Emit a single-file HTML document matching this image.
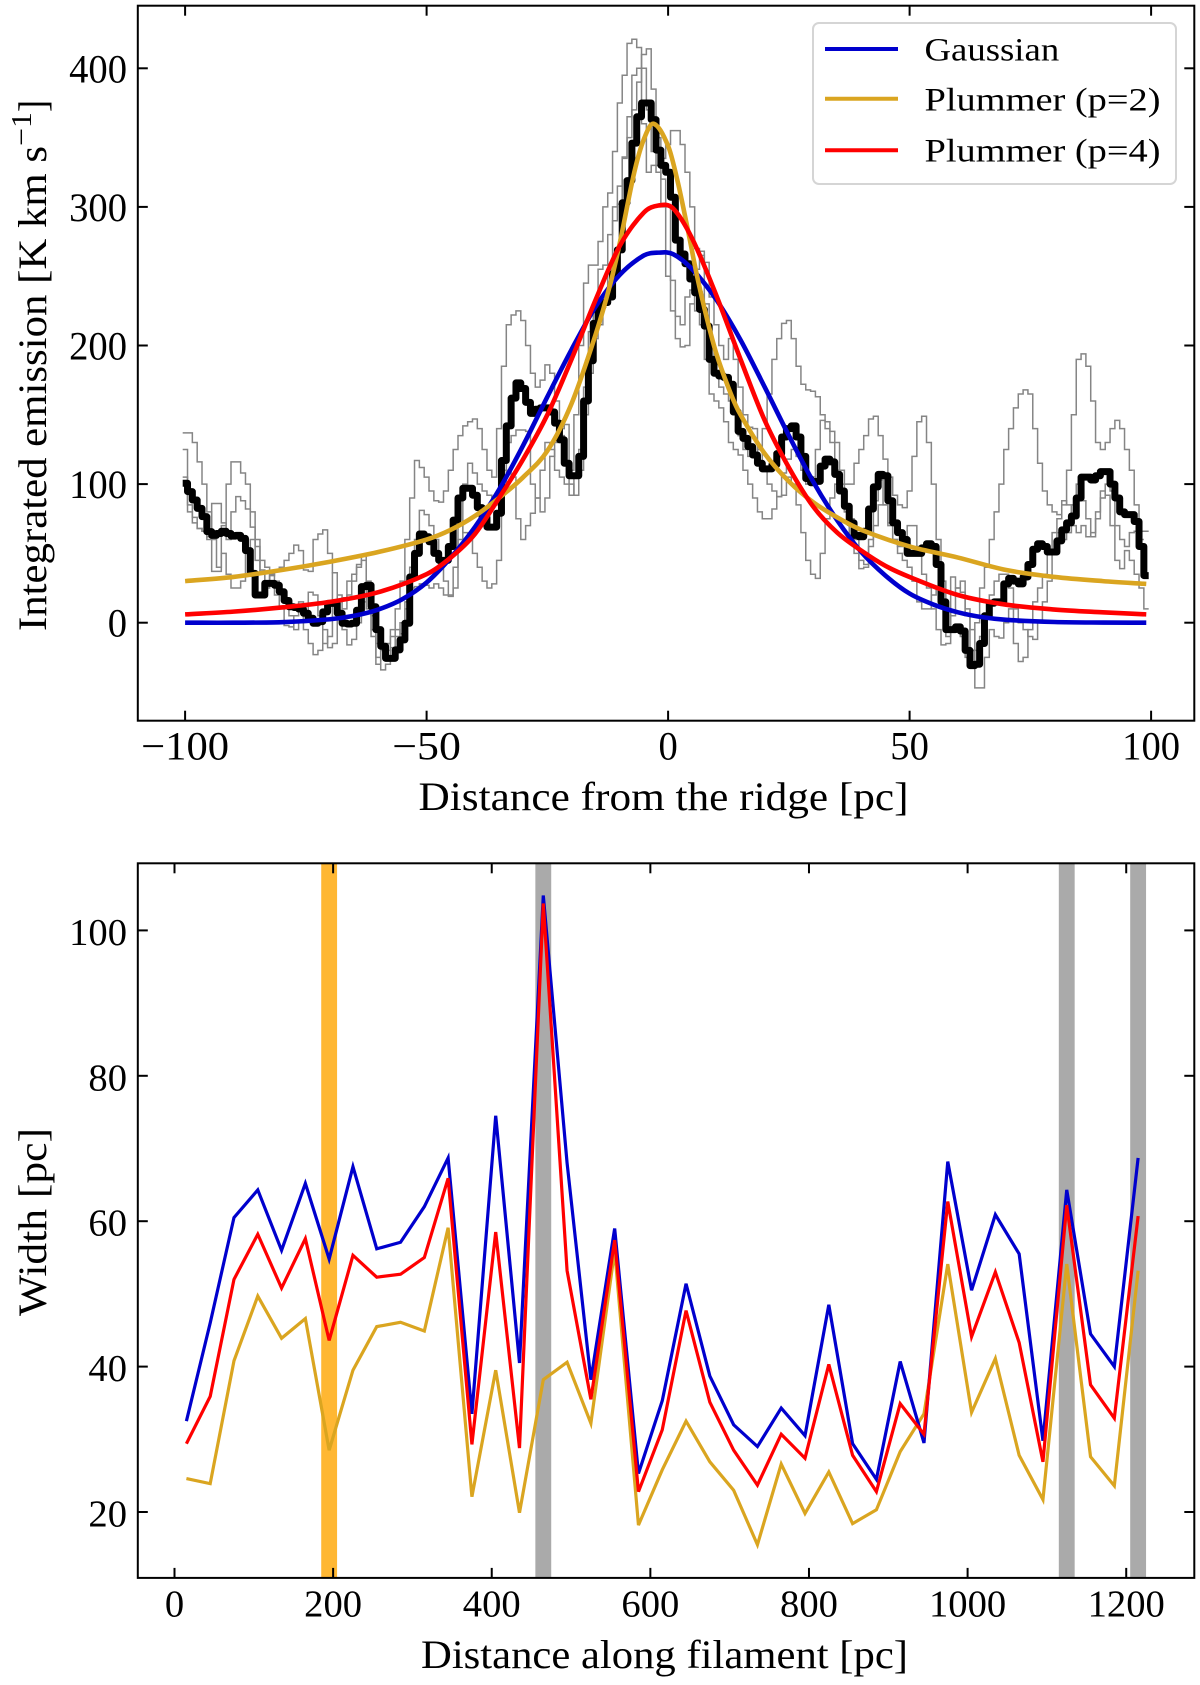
<!DOCTYPE html>
<html lang="en">
<head>
<meta charset="utf-8">
<title>Filament profile and width</title>
<style>
html,body{margin:0;padding:0;background:#fff;}
svg{display:block;}
text{font-family:"Liberation Serif",serif;fill:#000;}
</style>
</head>
<body>
<svg id="figure" xmlns="http://www.w3.org/2000/svg" width="1200" height="1685" viewBox="0 0 1200 1685">
  <rect x="0" y="0" width="1200" height="1685" fill="#fff"/>
  <g id="top-marks"></g>
  <g id="bottom-marks"></g>
  <g id="top-axes"></g>
  <g id="bottom-axes"></g>

  <text x="418.5" y="810" font-size="40" textLength="490" lengthAdjust="spacingAndGlyphs">Distance from the ridge [pc]</text>
  <text transform="translate(46,631) rotate(-90)" x="0" y="0" font-size="40" textLength="485" lengthAdjust="spacingAndGlyphs">Integrated emission [K km s</text>
  <text transform="translate(31,146) rotate(-90)" x="0" y="0" font-size="29" textLength="34" lengthAdjust="spacingAndGlyphs">−1</text>
  <text transform="translate(46,112) rotate(-90)" x="0" y="0" font-size="40" textLength="12" lengthAdjust="spacingAndGlyphs">]</text>

  <text x="421" y="1668" font-size="40" textLength="487" lengthAdjust="spacingAndGlyphs">Distance along filament [pc]</text>
  <text transform="translate(46,1316) rotate(-90)" x="0" y="0" font-size="40" textLength="188" lengthAdjust="spacingAndGlyphs">Width [pc]</text>

  <g>
    <rect x="813" y="23" width="363" height="161" rx="6" ry="6" fill="#fff" fill-opacity="0.85" stroke="#d5d5d5" stroke-width="2"/>
    <line x1="825" x2="898" y1="49" y2="49" stroke="#0000cd" stroke-width="4"/>
    <text x="924.5" y="60.5" font-size="33" textLength="134.7" lengthAdjust="spacingAndGlyphs">Gaussian</text>
    <line x1="825" x2="898" y1="98.7" y2="98.7" stroke="#daa520" stroke-width="4"/>
    <text x="924.5" y="110.5" font-size="33" textLength="236" lengthAdjust="spacingAndGlyphs">Plummer (p=2)</text>
    <line x1="825" x2="898" y1="150.3" y2="150.3" stroke="#ff0000" stroke-width="4"/>
    <text x="924.5" y="161.5" font-size="33" textLength="236" lengthAdjust="spacingAndGlyphs">Plummer (p=4)</text>
  </g>
</svg>

<script>
// ---------- top panel data ----------
const profileStart = -100;
const profileMean = [100.6,94.6,88.5,82.5,76.5,65.7,63,64.4,66,64.4,62.5,63,60.8,52,35.6,20,20,28.4,28.4,27,22.3,16,11.5,11,9.9,6.8,3.2,-0.4,0.8,7.8,13.9,13.9,6.8,-0.4,-0.9,-0.4,9,26,27,11.5,-5,-17,-25.7,-25.7,-19.6,-12.4,-0.4,33,50,64,62,58.4,50,45,45,55,74,90,97,97,92,83,76,69,69,79,117,142,162,173,169,159,151,154,155,155,152,144,132,115,106,106,120,160,189,216,228,231,235,252,269,303,319,346,365,375,375,363,341,330,325,307,276,266,259,248,238,226,214,190,180,178,177,172,152,138,133,127,121,115,111,111,114,122,134,140,142,134,120,104,101,102,113,118,116,107,95,84,72,63,62,66,82,98,107,106,88,72,65,60,50,50,50,54,57,55,42,15,-5,-5,-3,-6,-20,-31,-30,-15,5,14,15,15,28,32,30,28,33,42,53,57,55,51,51,59,67,72,77,90,105,105,103,106,109,109,100,90,80,78,78,73,55,34];
const sliceA = [137,137,130,116,100,80,60,40,70,100,116,116,108,100,80,60,38,30,34,38,40,45,50,56,52,38,37,60,64,67,50,36,15,18,30,35,42,48,20,-10,-30,-20,-20,-5,10,30,60,90,117,112,105,95,88,87,95,110,125,135,142,145,147,140,125,110,105,140,185,215,222,225,218,200,180,170,175,186,180,160,135,115,110,150,200,245,258,258,275,300,310,340,375,395,418,421,415,400,370,340,330,335,345,355,355,345,325,300,270,265,230,200,180,170,165,160,150,135,125,120,122,125,140,165,190,205,216,218,205,185,172,168,167,163,150,140,138,130,110,100,100,115,125,135,147,149,135,118,105,92,85,83,95,120,145,149,130,100,60,30,10,-5,-5,-10,-25,-20,0,25,40,60,80,100,125,140,155,165,168,165,140,115,95,85,80,78,85,110,150,190,194,185,160,130,125,130,140,146,140,125,110,85,60];
const sliceB = [105,80,72,68,66,60,86,86,72,60,80,91,88,82,69,55,45,40,30,20,10,-2,-3,5,15,-5,-15,-23,-20,-5,-18,-15,5,-5,-16,-12,0,15,30,5,-15,-34,-30,-18,-10,0,15,40,60,81,78,70,60,40,30,20,25,60,100,115,108,100,95,92,85,85,110,130,135,139,139,138,100,90,80,90,120,130,140,143,100,92,110,170,210,225,255,258,280,300,315,336,350,370,390,410,414,385,350,300,250,225,205,199,200,230,255,268,260,235,215,200,190,205,190,170,150,141,140,125,110,100,95,91,108,118,125,120,110,100,105,125,146,145,130,110,95,80,75,60,45,42,55,70,85,85,70,60,55,60,70,70,55,35,25,10,-5,-16,-15,5,25,30,10,-20,-47,-47,-25,-5,-10,-11,0,10,-15,-28,-25,-5,15,25,35,50,65,75,88,85,70,65,70,62,65,80,95,92,70,45,39,52,45,35,25,10];
const sliceC = [125,85,76,68,66,62,37,37,50,35,25,25,30,50,60,45,35,25,35,30,20,15,5,-5,0,8,22,20,5,-15,-10,36,20,10,20,30,40,45,10,-5,-25,-20,-15,-10,-5,-8,10,25,26,28,27,25,28,25,20,19,40,70,65,60,50,40,30,25,28,45,100,110,105,75,60,70,79,90,110,130,125,110,105,100,92,105,125,150,180,205,215,235,255,290,302,335,365,395,400,360,325,330,325,320,300,247,221,215,235,240,225,215,190,165,160,155,145,130,125,121,110,100,90,80,75,75,82,91,92,105,100,85,65,45,35,32,50,75,90,100,100,80,60,50,39,40,60,88,103,85,72,60,50,45,40,30,15,10,10,20,25,15,-10,33,25,22,5,-5,-20,-10,5,20,30,35,35,25,10,0,-5,-10,-12,0,15,30,50,65,60,65,85,100,88,75,62,75,90,100,95,70,60,55,65,66,66,66];

const gaussianX = [-100,-90,-80,-70,-65,-60,-55,-50,-45,-40,-35,-30,-25,-20,-15,-10,-5,-2,1,5,10,15,20,25,30,35,40,45,50,55,60,65,70,80,90,99];
const gaussianY = [0,0,0.4,2.5,5,9.5,17,29,47,69,96,128,163,197,228,251,265,267,266,255,233,204,170,135,102,74,51,34,21,13,7.5,4,2.1,0.5,0.1,0];
const plummer4X = [-100,-90,-80,-70,-60,-50,-45,-40,-35,-30,-25,-20,-15,-10,-5,-2,1,5,10,15,20,25,30,35,40,45,50,60,70,80,90,99];
const plummer4Y = [6,8,11,15,22,35,47,64,90,118,150,190,233,272,296,301,299,277,236,190,146,112,84,65,52,41,33,20,13,9.5,7.5,6];
const plummer2X = [-100,-90,-80,-70,-60,-50,-45,-40,-35,-30,-25,-20,-15,-12,-10,-7,-5,-3,0,2,4,6,8,10,13,15,20,25,30,35,40,50,60,70,80,90,99];
const plummer2Y = [30,33,38,44,51,60,67,77,90,105,124,158,208,244,274,325,349,360,344,318,285,250,220,194,165,150,122,102,87,76,67,55,47,38,33,30,28];

const topXTicks = [-100,-50,0,50,100];
const topYTicks = [0,100,200,300,400];

// ---------- bottom panel data ----------
const filamentStart = 15;
const filamentStep = 30;
const widthGaussian = [32.5,46,60.5,64.3,56,65.2,54.8,67.5,56.2,57.1,62,68.7,33.5,74.5,40.5,104.8,68,38.2,59,25.3,35.3,51.4,38.7,32,29,34.3,30.5,48.5,29.4,24.5,40.7,29.5,68.2,50.5,60.9,55.5,29.8,64.3,44.5,40,68.7];
const widthPlummer2 = [24.6,23.9,40.8,49.7,43.9,46.6,28.5,39.5,45.5,46.1,44.9,59.1,22.1,39.5,19.9,38.2,40.6,32.2,56,18.2,25.8,32.5,26.9,23,15.5,26.6,19.8,25.5,18.4,20.3,28.3,33.5,54.1,33.7,41.1,27.8,21.7,54.1,27.6,23.6,53.2];
const widthPlummer4 = [29.4,35.9,52,58.2,50.8,57.6,43.6,55.3,52.3,52.7,55,65.9,29.3,58.5,28.8,103.7,53.2,35.5,57.4,22.8,31.3,47.7,35.1,28.5,23.7,30.7,27.4,40.3,27.8,22.8,34.9,30.7,62.7,44.1,53,43.3,26.9,62.2,37.5,32.9,60.7];
const orangeBands = [195];
const grayBands = [465,1125,1215];
const bandHalfWidth = 10;

const bottomXTicks = [0,200,400,600,800,1000,1200];
const bottomYTicks = [20,40,60,80,100];

// ---------- axis functions ----------
const box = {left:137.8,right:1194.3};
const topBox = {top:5.7,bottom:720.7};
const botBox = {top:863.3,bottom:1577.9};
function topX(v){return 668.1+4.83*v;}
function topY(v){return 622.7-1.386*v;}
function botX(v){return 174.5+0.7931*v;}
function botY(v){return 930.4+(100-v)*7.27;}

const NS = 'http://www.w3.org/2000/svg';
function make(tag,parent,attrs){
  const el = document.createElementNS(NS,tag);
  for(const k in attrs){el.setAttribute(k,attrs[k]);}
  parent.appendChild(el);
  return el;
}
function fmt(n){return n.toFixed(2);}

function stepPath(values,start,xf,yf){
  let d = 'M'+fmt(xf(start-0.5))+' '+fmt(yf(values[0]));
  for(let i=0;i<values.length;i++){
    const x1 = xf(start+i+0.5);
    d += 'H'+fmt(x1);
    if(i<values.length-1){d += 'V'+fmt(yf(values[i+1]));}
  }
  return d;
}
function smoothPath(xs,ys,xf,yf){
  const n = xs.length;
  const slopes = [];
  for(let i=0;i<n;i++){
    const a = Math.max(0,i-1), b = Math.min(n-1,i+1);
    slopes.push((ys[b]-ys[a])/(xs[b]-xs[a]));
  }
  let d = 'M'+fmt(xf(xs[0]))+' '+fmt(yf(ys[0]));
  for(let i=0;i<n-1;i++){
    const h = xs[i+1]-xs[i];
    const c1x = xs[i]+h/3, c1y = ys[i]+slopes[i]*h/3;
    const c2x = xs[i+1]-h/3, c2y = ys[i+1]-slopes[i+1]*h/3;
    d += 'C'+fmt(xf(c1x))+' '+fmt(yf(c1y))+' '+fmt(xf(c2x))+' '+fmt(yf(c2y))+' '+fmt(xf(xs[i+1]))+' '+fmt(yf(ys[i+1]));
  }
  return d;
}
function polyPath(values,xf,yf){
  let d = '';
  values.forEach(function(v,i){
    d += (i?'L':'M')+fmt(xf(filamentStart+filamentStep*i))+' '+fmt(yf(v));
  });
  return d;
}
function labelWidth(v){
  const digits = String(Math.abs(v)).length;
  return digits*19.3+(v<0?30:0);
}
function labelText(v){
  return (v<0?'\u2212':'')+Math.abs(v);
}

// ---------- top panel marks ----------
const topMarks = document.getElementById('top-marks');
const grayStyle = {fill:'none',stroke:'#858585','stroke-width':'1.5','stroke-linejoin':'miter'};

const pathA = make('path',topMarks,Object.assign({d:stepPath(sliceA,profileStart,topX,topY)},grayStyle));


const pathB = make('path',topMarks,Object.assign({d:stepPath(sliceB,profileStart,topX,topY)},grayStyle));


const pathC = make('path',topMarks,Object.assign({d:stepPath(sliceC,profileStart,topX,topY)},grayStyle));



const pathMean = make('path',topMarks,{d:stepPath(profileMean,profileStart,topX,topY),fill:'none',stroke:'#000','stroke-width':'7','stroke-linejoin':'round','stroke-linecap':'butt'});



const fitG = make('path',topMarks,{d:smoothPath(gaussianX,gaussianY,topX,topY),fill:'none',stroke:'#0000cd','stroke-width':'4.6'});


const fitP2 = make('path',topMarks,{d:smoothPath(plummer2X,plummer2Y,topX,topY),fill:'none',stroke:'#daa520','stroke-width':'4.6'});


const fitP4 = make('path',topMarks,{d:smoothPath(plummer4X,plummer4Y,topX,topY),fill:'none',stroke:'#ff0000','stroke-width':'4.6'});



// ---------- bottom panel marks ----------
const botMarks = document.getElementById('bottom-marks');
orangeBands.forEach(function(c){
  const r = make('rect',botMarks,{x:fmt(botX(c-bandHalfWidth)),y:botBox.top,width:fmt(botX(c+bandHalfWidth)-botX(c-bandHalfWidth)),height:botBox.bottom-botBox.top,fill:'#ffb733'});
  
  
});
grayBands.forEach(function(c){
  const r = make('rect',botMarks,{x:fmt(botX(c-bandHalfWidth)),y:botBox.top,width:fmt(botX(c+bandHalfWidth)-botX(c-bandHalfWidth)),height:botBox.bottom-botBox.top,fill:'#aaaaaa'});
  
  
});
const wP2 = make('path',botMarks,{d:polyPath(widthPlummer2,botX,botY),fill:'none',stroke:'#daa520','stroke-width':'3.2','stroke-linejoin':'miter'});


const wG = make('path',botMarks,{d:polyPath(widthGaussian,botX,botY),fill:'none',stroke:'#0000cd','stroke-width':'3.2','stroke-linejoin':'miter'});


const wP4 = make('path',botMarks,{d:polyPath(widthPlummer4,botX,botY),fill:'none',stroke:'#ff0000','stroke-width':'3.2','stroke-linejoin':'miter'});



// ---------- axes ----------
function drawAxes(group,frame,xTicks,yTicks,xf,yf,fontSize,xBase,yOffset){
  const spine = make('rect',group,{x:box.left,y:frame.top,width:box.right-box.left,height:frame.bottom-frame.top,fill:'none',stroke:'#000','stroke-width':'2'});
  
  
  const tickLen = 10;
  xTicks.forEach(function(v){
    const x = xf(v);
    const t1 = make('line',group,{x1:x,x2:x,y1:frame.bottom,y2:frame.bottom-tickLen,stroke:'#000','stroke-width':'2'});
    
    
    const t2 = make('line',group,{x1:x,x2:x,y1:frame.top,y2:frame.top+tickLen,stroke:'#000','stroke-width':'2'});
    
    
    const label = make('text',group,{x:x,y:xBase,'font-size':fontSize,'text-anchor':'middle',textLength:labelWidth(v),lengthAdjust:'spacingAndGlyphs'});
    
    
    label.textContent = labelText(v);
  });
  yTicks.forEach(function(v){
    const y = yf(v);
    const t1 = make('line',group,{x1:box.left,x2:box.left+tickLen,y1:y,y2:y,stroke:'#000','stroke-width':'2'});
    
    
    const t2 = make('line',group,{x1:box.right,x2:box.right-tickLen,y1:y,y2:y,stroke:'#000','stroke-width':'2'});
    
    
    const label = make('text',group,{x:127,y:y+yOffset,'font-size':fontSize,'text-anchor':'end',textLength:labelWidth(v),lengthAdjust:'spacingAndGlyphs'});
    
    
    label.textContent = labelText(v);
  });
}
drawAxes(document.getElementById('top-axes'),topBox,topXTicks,topYTicks,topX,topY,40,759.5,14);
drawAxes(document.getElementById('bottom-axes'),botBox,bottomXTicks,bottomYTicks,botX,botY,38,1616.5,14.5);
</script>
</body>
</html>
